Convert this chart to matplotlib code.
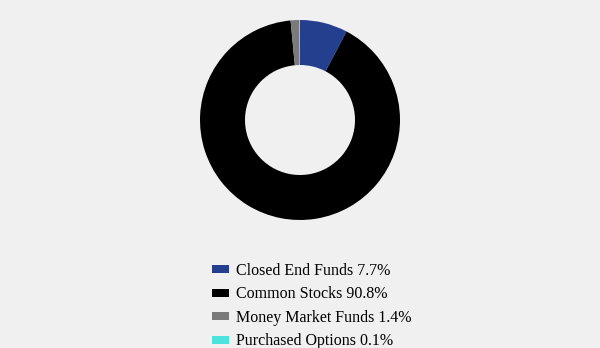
import matplotlib
matplotlib.use("Agg")
import matplotlib.pyplot as plt
from matplotlib.patches import Patch

labels = ["Closed End Funds", "Common Stocks", "Money Market Funds", "Purchased Options"]
values = [7.7, 90.8, 1.4, 0.1]
colors = ["#253f8f", "#000000", "#7a7a7a", "#4de3dc"]

plt.rcParams['font.family'] = ['Liberation Serif', 'DejaVu Serif']

fig = plt.figure(figsize=(6, 3.48), dpi=100, facecolor="#f0f0f0")
# pie centred around (300,120) px, radius ~100 px
ax = fig.add_axes([200/600, 1 - 220/348, 200/600, 200/348])
ax.set_facecolor("#f0f0f0")
ax.pie(values, colors=colors, startangle=90, counterclock=False,
       wedgeprops=dict(width=0.45, edgecolor="none"), radius=1.0)
ax.set_xlim(-1, 1)
ax.set_ylim(-1, 1)
ax.set_aspect("equal")
ax.axis("off")

handles = [Patch(facecolor=c, edgecolor="none") for c in colors]
leg_labels = [f"{l} {v}%" for l, v in zip(labels, values)]
fig.legend(handles, leg_labels, loc="upper left", bbox_to_anchor=(206/600, 1 - 256.5/348),
           frameon=False, fontsize=11.5, handlelength=1.05, handleheight=0.4,
           handletextpad=0.45, labelspacing=0.47, borderaxespad=0)

fig.savefig("out.png", dpi=100, facecolor=fig.get_facecolor())
